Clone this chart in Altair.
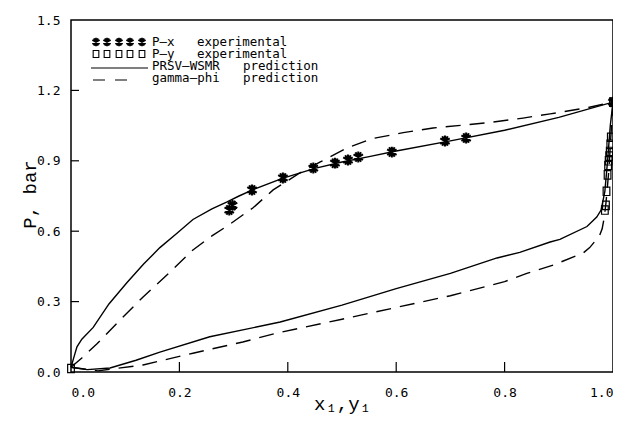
import altair as alt
import pandas as pd

# ---- data ----
prsv_bub_x = [0.0, 0.005, 0.011, 0.02, 0.041, 0.07, 0.103, 0.134, 0.164, 0.195, 0.225, 0.26, 0.288, 0.31, 0.334, 0.39, 0.45, 0.5, 0.55, 0.6, 0.7, 0.8, 0.9, 1.0]
prsv_bub_p = [0.02, 0.06, 0.107, 0.14, 0.19, 0.29, 0.38, 0.46, 0.53, 0.59, 0.65, 0.695, 0.725, 0.75, 0.775, 0.825, 0.868, 0.895, 0.918, 0.942, 0.985, 1.03, 1.085, 1.15]

prsv_dew_y = [0.0, 0.03, 0.072, 0.12, 0.164, 0.256, 0.386, 0.5, 0.6, 0.7, 0.786, 0.828, 0.884, 0.902, 0.952, 0.97, 0.978, 0.985, 0.99, 0.995, 1.0]
prsv_dew_p = [0.02, 0.01, 0.017, 0.05, 0.085, 0.15, 0.213, 0.285, 0.355, 0.42, 0.486, 0.51, 0.554, 0.565, 0.62, 0.66, 0.69, 0.77, 0.9, 1.05, 1.15]

gp_bub_x = [0.0, 0.02, 0.048, 0.09, 0.133, 0.18, 0.225, 0.26, 0.29, 0.336, 0.373, 0.42, 0.46, 0.509, 0.557, 0.613, 0.668, 0.723, 0.779, 0.834, 0.884, 0.95, 1.0]
gp_bub_p = [0.02, 0.06, 0.12, 0.22, 0.32, 0.42, 0.52, 0.58, 0.625, 0.70, 0.776, 0.845, 0.895, 0.955, 0.995, 1.02, 1.04, 1.052, 1.065, 1.082, 1.10, 1.125, 1.15]

gp_dew_y = [0.0, 0.05, 0.133, 0.225, 0.317, 0.38, 0.5, 0.6, 0.7, 0.8, 0.841, 0.89, 0.945, 0.957, 0.975, 0.98, 0.984, 0.987, 0.992, 0.996, 1.0]
gp_dew_p = [0.02, 0.005, 0.03, 0.08, 0.128, 0.166, 0.225, 0.275, 0.325, 0.385, 0.42, 0.456, 0.507, 0.53, 0.58, 0.61, 0.66, 0.72, 0.85, 1.0, 1.15]

px_x = [0.292, 0.298, 0.334, 0.391, 0.447, 0.487, 0.511, 0.530, 0.592, 0.690, 0.729, 1.0]
px_p = [0.69, 0.71, 0.776, 0.827, 0.869, 0.89, 0.903, 0.916, 0.937, 0.984, 0.997, 1.15]

py_y = [0.0, 0.985, 0.987, 0.988, 0.99, 0.991, 0.992, 0.993, 0.994, 0.995, 0.996, 1.0]
py_p = [0.015, 0.69, 0.71, 0.77, 0.84, 0.88, 0.90, 0.92, 0.94, 0.97, 1.00, 1.15]

x_ticks = [0.0, 0.2, 0.4, 0.6, 0.8, 1.0]
y_ticks = [0.0, 0.3, 0.6, 0.9, 1.2, 1.5]
x_inner = [0.2, 0.4, 0.6, 0.8]
y_inner = [0.3, 0.6, 0.9, 1.2]

# legend words (each entry: first word, second word)
legend_first = ["P\u2013x", "P\u2013y", "PRSV\u2013WSMR", "gamma\u2013phi"]
legend_second = ["experimental", "experimental", "prediction", "prediction"]

W, H = 542, 352
STAR = "M0,-1L0,1M-0.866,-0.5L0.866,0.5M-0.866,0.5L0.866,-0.5M-0.5,-0.866L0.5,0.866M-0.5,0.866L0.5,-0.866"
BOX = "M-0.8,-1H0.8V1H-0.8Z"


def curve_df(xs, ps, name):
    return pd.DataFrame({"x": xs, "P": ps, "curve": name, "o": range(len(xs))})


solid = pd.concat([curve_df(prsv_bub_x, prsv_bub_p, "bub"), curve_df(prsv_dew_y, prsv_dew_p, "dew")])
dashed = pd.concat([curve_df(gp_bub_x, gp_bub_p, "bub"), curve_df(gp_dew_y, gp_dew_p, "dew")])
stars = pd.DataFrame({"x": px_x, "P": px_p})
boxes = pd.DataFrame({"x": py_y, "P": py_p})

xs = alt.Scale(domain=[0, 1], nice=False)
ys = alt.Scale(domain=[0, 1.5], nice=False)

X = alt.X("x:Q", scale=xs, axis=alt.Axis(
    values=x_ticks, format=".1f", ticks=False, domain=False, grid=False,
    labelFont="DejaVu Sans Mono", labelFontSize=13, labelColor="black", labelPadding=14,
    title="x\u2081,y\u2081", titleFont="Liberation Mono", titleFontSize=19,
    titleFontWeight="normal", titleColor="black", titleX=271, titleY=31,
    titleBaseline="middle", titleAlign="center"))
Y = alt.Y("P:Q", scale=ys, axis=alt.Axis(
    values=y_ticks, format=".1f", ticks=False, domain=False, grid=False,
    labelFont="DejaVu Sans Mono", labelFontSize=13, labelColor="black", labelPadding=11,
    title="P, bar", titleFont="Liberation Mono", titleFontSize=19,
    titleFontWeight="normal", titleColor="black", titleX=-42, titleY=174,
    titleBaseline="middle", titleAlign="center"))

base_solid = alt.Chart(solid).mark_line(color="black", strokeWidth=1.4).encode(
    x=X, y=Y, detail="curve:N", order="o:Q")
base_dashed = alt.Chart(dashed).mark_line(color="black", strokeWidth=1.4, strokeDash=[15, 9]).encode(
    x="x:Q", y="P:Q", detail="curve:N", order="o:Q")
pts_star = alt.Chart(stars).mark_point(shape=STAR, size=120, color="black", strokeWidth=2, filled=False, opacity=1).encode(
    x="x:Q", y="P:Q")
pts_box = alt.Chart(boxes).mark_point(shape=BOX, size=70, color="black", strokeWidth=1.2, filled=False, opacity=1).encode(
    x="x:Q", y="P:Q")

yt = alt.Chart(pd.DataFrame({"v": y_inner})).mark_rule(color="black", strokeWidth=1.2).encode(
    y="v:Q", x=alt.value(0), x2=alt.value(8))
xt = alt.Chart(pd.DataFrame({"v": x_inner})).mark_rule(color="black", strokeWidth=1.2).encode(
    x="v:Q", y=alt.value(H), y2=alt.value(H - 10))

# legend (decoration placed in pixel space)
rows = [22, 34, 46, 58]
leg1 = alt.Chart(pd.DataFrame({"t": legend_first, "ly": rows})).mark_text(
    align="left", baseline="middle", font="DejaVu Sans Mono", fontSize=12.5, color="black").encode(
    text="t:N", x=alt.value(81), y=alt.Y("ly:Q", scale=None))
leg2 = alt.Chart(pd.DataFrame({"t": legend_second, "ly": rows,
                               "lx": [126, 126, 172, 172]})).mark_text(
    align="left", baseline="middle", font="DejaVu Sans Mono", fontSize=12.5, color="black").encode(
    text="t:N", x=alt.X("lx:Q", scale=None), y=alt.Y("ly:Q", scale=None))
leg_sym = pd.DataFrame({"lx": [25, 36, 48, 59, 71]})
leg_star = alt.Chart(leg_sym).mark_point(shape=STAR, size=70, color="black", strokeWidth=1.8, filled=False, opacity=1).encode(
    x=alt.X("lx:Q", scale=None), y=alt.value(22))
leg_box = alt.Chart(leg_sym).mark_point(shape=BOX, size=50, color="black", strokeWidth=1.1, filled=False, opacity=1).encode(
    x=alt.X("lx:Q", scale=None), y=alt.value(34))
leg_solid = alt.Chart(pd.DataFrame({"a": [0]})).mark_rule(color="black", strokeWidth=1.2).encode(
    x=alt.value(20), x2=alt.value(77), y=alt.value(48))
leg_dash = alt.Chart(pd.DataFrame({"a": [0]})).mark_rule(color="black", strokeWidth=1.2, strokeDash=[12, 10]).encode(
    x=alt.value(22), x2=alt.value(58), y=alt.value(60))

chart = alt.layer(
    base_solid, base_dashed, pts_star, pts_box, yt, xt,
    leg1, leg2, leg_star, leg_box, leg_solid, leg_dash
).properties(
    width=W, height=H,
    autosize=alt.AutoSizeParams(type="none"),
    padding={"left": 63, "top": 12, "right": 0, "bottom": 43},
    background="white",
).configure_view(stroke="black", strokeWidth=1.5)

chart.save("out.html", embed_options={"renderer": "svg", "actions": False})
